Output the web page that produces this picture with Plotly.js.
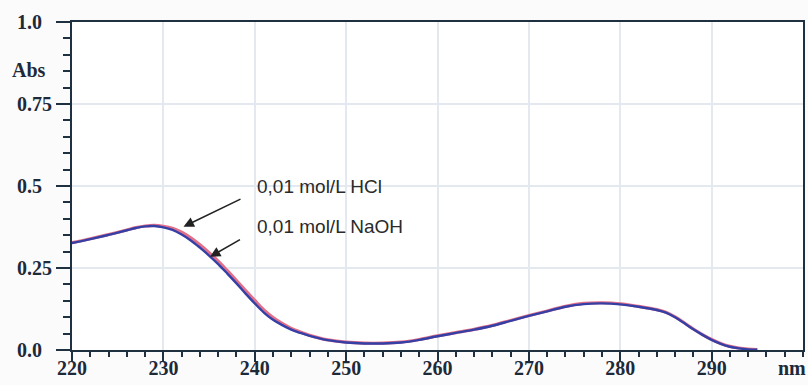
<!DOCTYPE html>
<html><head><meta charset="utf-8">
<script src="https://cdn.plot.ly/plotly-3.0.1.min.js"></script>
<style>html,body{margin:0;padding:0;background:#fcfbfb;}#chart{width:808px;height:385px;}</style>
</head><body><div id="chart"></div>
<script>
// Wavelengths (nm)
var wavelength = [220,222,224,226,227,228,229,230,231,232,233,234,235,236,237,238,239,240,241,242,243,244,245,246,247,248,250,252,254,256,258,260,262,264,266,268,270,272,274,276,278,280,282,284,285,286,287,288,289,290,291,292,293,294,295];
// Absorbance, 0.01 mol/L NaOH
var absNaOH = [0.326,0.338,0.351,0.365,0.372,0.377,0.378,0.374,0.366,0.352,0.334,0.312,0.288,0.262,0.233,0.203,0.172,0.142,0.114,0.092,0.076,0.062,0.052,0.043,0.036,0.030,0.023,0.020,0.020,0.023,0.031,0.042,0.052,0.062,0.074,0.089,0.104,0.118,0.132,0.140,0.142,0.139,0.132,0.122,0.114,0.100,0.082,0.063,0.046,0.031,0.019,0.010,0.005,0.002,0.001];
// Absorbance, 0.01 mol/L HCl
var absHCl = [0.327,0.339,0.352,0.366,0.373,0.378,0.380,0.377,0.371,0.359,0.342,0.321,0.297,0.271,0.242,0.212,0.181,0.151,0.122,0.099,0.081,0.066,0.055,0.045,0.037,0.031,0.024,0.021,0.021,0.024,0.032,0.043,0.053,0.063,0.075,0.090,0.105,0.119,0.133,0.142,0.144,0.141,0.133,0.123,0.115,0.101,0.083,0.064,0.047,0.032,0.020,0.011,0.006,0.003,0.001];
var seriesNames = ["0,01 mol/L HCl", "0,01 mol/L NaOH"];
var xTicks = [220,230,240,250,260,270,280,290];
var xTickText = ["220","230","240","250","260","270","280","290"];
var yTicks = [0,0.25,0.5,0.75,1.0];
var yTickText = ["0.0\u00a0\u00a0","0.25","0.5\u00a0\u00a0","0.75","1.0\u00a0\u00a0"];

var traces = [
  {x: wavelength, y: absHCl, mode: "lines", name: seriesNames[0], line: {color: "#e2708a", width: 3.2, shape: "spline"}},
  {x: wavelength, y: absNaOH, mode: "lines", name: seriesNames[1], line: {color: "#3440a6", width: 2.4, shape: "spline"}}
];
var tickFont = {family: "Liberation Serif, Times New Roman, serif", size: 20, color: "#1c2a3a", weight: "bold"};
var textFont = {family: "Liberation Sans, Arial, sans-serif", size: 19, color: "#2a2a2a"};
var layout = {
  width: 808, height: 385,
  margin: {l: 72, r: 5, t: 22, b: 35},
  paper_bgcolor: "#fcfbfb", plot_bgcolor: "#ffffff",
  showlegend: false,
  xaxis: {
    range: [220, 300], tickvals: xTicks, ticktext: xTickText,
    ticks: "outside", ticklen: 10, tickwidth: 2, tickcolor: "#1f3040",
    ticklabelstandoff: -11,
    showline: true, linecolor: "#1f3040", linewidth: 2, mirror: true,
    showgrid: true, gridcolor: "#e3e9ee", gridwidth: 2, zeroline: false,
    tickfont: tickFont,
    minor: {dtick: 2, tick0: 220, ticks: "outside", ticklen: 5, tickwidth: 2, tickcolor: "#1f3040", showgrid: false}
  },
  yaxis: {
    range: [0, 1.0], tickvals: yTicks, ticktext: yTickText,
    ticks: "outside", ticklen: 14, tickwidth: 2, tickcolor: "#1f3040",
    showline: true, linecolor: "#1f3040", linewidth: 2, mirror: true,
    showgrid: true, gridcolor: "#e3e9ee", gridwidth: 2, zeroline: false,
    tickfont: tickFont,
    minor: {dtick: 0.05, tick0: 0, ticks: "outside", ticklen: 7, tickwidth: 2, tickcolor: "#1f3040", showgrid: false}
  },
  annotations: [
    {xref: "x", yref: "y", x: 240.0, y: 0.50, text: seriesNames[0], showarrow: false, xanchor: "left", yanchor: "middle", font: textFont},
    {xref: "x", yref: "y", x: 240.0, y: 0.378, text: seriesNames[1], showarrow: false, xanchor: "left", yanchor: "middle", font: textFont},
    {xref: "x", yref: "y", x: 232.2, y: 0.376, text: " ", showarrow: true, ax: 60, ay: -29, arrowhead: 2, arrowsize: 1.3, arrowwidth: 1.6, arrowcolor: "#222222"},
    {xref: "x", yref: "y", x: 235.1, y: 0.284, text: " ", showarrow: true, ax: 33, ay: -19, arrowhead: 2, arrowsize: 1.3, arrowwidth: 1.6, arrowcolor: "#222222"},
    {xref: "paper", yref: "paper", x: -0.085, y: 0.855, text: "Abs", showarrow: false, xanchor: "left", yanchor: "middle", font: tickFont},
    {xref: "paper", yref: "paper", x: 1.0068, y: -0.055, text: "nm", showarrow: false, xanchor: "right", yanchor: "middle", font: tickFont}
  ]
};
Plotly.newPlot("chart", traces, layout, {displayModeBar: false, staticPlot: true});
</script></body></html>
